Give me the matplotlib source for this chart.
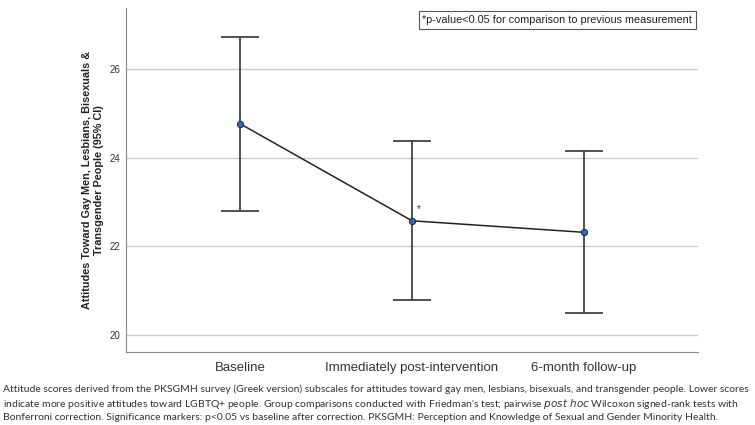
import numpy as np
import matplotlib.pyplot as plt

plt.rcParams['font.family'] = ['Liberation Sans', 'DejaVu Sans']

timepoints = ["Baseline", "Immediately post-intervention", "6-month follow-up"]
means = [24.77, 22.58, 22.32]
ci_low = [22.81, 20.79, 20.49]
ci_high = [26.73, 24.37, 24.16]
yticks = [20, 22, 24, 26]

caption = ("Attitude scores derived from the PKSGMH survey (Greek version) subscales for attitudes toward gay men, lesbians, bisexuals, and transgender people. Lower scores\n"
           "indicate more positive attitudes toward LGBTQ+ people. Group comparisons conducted with Friedman's test; pairwise $\\it{post\\ hoc}$ Wilcoxon signed-rank tests with\n"
           "Bonferroni correction. Significance markers: p<0.05 vs baseline after correction. PKSGMH: Perception and Knowledge of Sexual and Gender Minority Health.")

fig = plt.figure(figsize=(7.55, 4.25), dpi=100)
ax = fig.add_axes([126/755, 1-352/425, 572/755, 344/425])

x = np.arange(len(timepoints))
m = np.array(means)
yerr = [m - np.array(ci_low), np.array(ci_high) - m]
ax.errorbar(x, m, yerr=yerr, fmt="none", ecolor="#333333", elinewidth=1.2, capsize=14, capthick=1.2, zorder=3)
ax.plot(x, m, color="#222222", lw=1.1, zorder=4)
ax.plot(x, m, "o", ms=4.5, mfc="#2a6fb0", mec="#1a2a3a", mew=0.7, zorder=5)
ax.text(x[1] + 0.03, m[1] + 0.2, "*", fontsize=7, color="#333333")

ax.set_xlim(-0.663, 2.663)
ax.set_ylim(19.62, 27.38)
ax.set_yticks(yticks)
ax.set_yticklabels([str(t) for t in yticks], fontsize=7, color="#333333")
ax.set_xticks(x)
ax.set_xticklabels(timepoints, fontsize=9.5, color="#333333")
ax.tick_params(axis="x", length=0, pad=7)
ax.tick_params(axis="y", length=0, pad=4)
ax.grid(axis="y", color="#cccccc", lw=1)
ax.set_axisbelow(True)
for s in ["top", "right"]:
    ax.spines[s].set_visible(False)
for s in ["left", "bottom"]:
    ax.spines[s].set_color("#888888")
ax.set_ylabel("Attitudes Toward Gay Men, Lesbians, Bisexuals &\nTransgender People (95% CI)", fontsize=7.8, fontweight="bold", color="#222222", labelpad=4, linespacing=1.3)

ax.text(0.99, 0.98, "*p-value<0.05 for comparison to previous measurement", transform=ax.transAxes,
        ha="right", va="top", fontsize=7.8, color="#222222",
        bbox=dict(boxstyle="square,pad=0.35", fc="white", ec="#555555", lw=0.8))

fig.text(3/755, 1-384/425, caption, ha="left", va="top", fontsize=7.45, color="#333333", linespacing=1.3, family="Lato")

fig.savefig("out.png", dpi=100)
